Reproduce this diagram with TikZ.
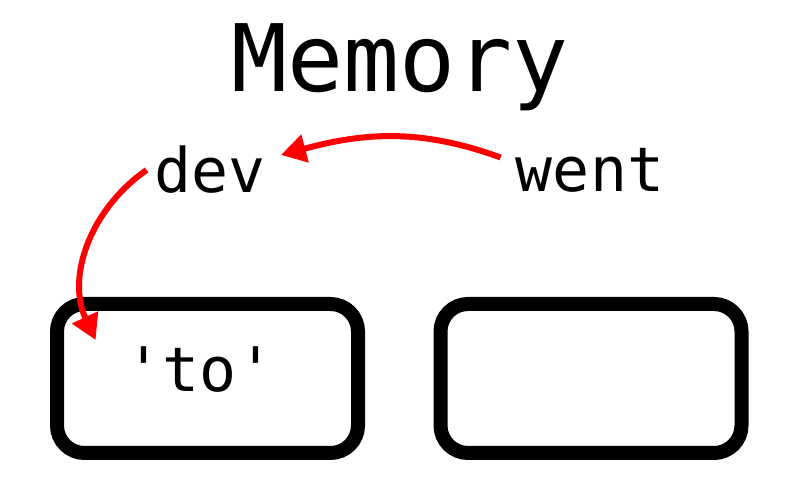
\documentclass[tikz,border=0pt]{standalone}
\usepackage{fontspec}
\setmonofont{DejaVu Sans Mono}
\usetikzlibrary{arrows.meta,positioning}
\begin{document}
\begin{tikzpicture}
        \useasboundingbox (0,0) rectangle (16,10);
        \begin{scope}
            \tikzstyle{every node}=[text=black, inner sep=0pt, font=\ttfamily\fontsize{35}{35}\selectfont]
            \node (title) at (8,8.65) {\fontsize{53}{53}\selectfont Memory};
            \node (dev) at (4.2,6.6) {dev};
            \node (went) at (11.8,6.6) {went};
            \node (to) at (4,2.6) {'to'};
        \end{scope}
        \begin{scope}
            \tikzstyle{every node}=[draw=black, line width=0.28cm, rounded corners=0.55cm, minimum width=6.02cm, minimum height=2.98cm]
            \node (cellA) at (4.15,2.43) {};
            \node (cellB) at (11.82,2.43) {};
        \end{scope}
        \begin{scope}
            \tikzstyle{every edge}=[draw, red, line width=0.12cm, -{Triangle[length=0.5cm,width=0.55cm]}]
            \path
            ([xshift=-0.3cm,yshift=0.25cm]went.west) edge[out=160, in=15] ([xshift=0.3cm,yshift=0.3cm]dev.east)
            ([xshift=-0.15cm]dev.west) edge[out=215, in=115] ([xshift=-0.6cm,yshift=0.6cm]to.west)
            ;
        \end{scope}
    \end{tikzpicture}
\end{document}
